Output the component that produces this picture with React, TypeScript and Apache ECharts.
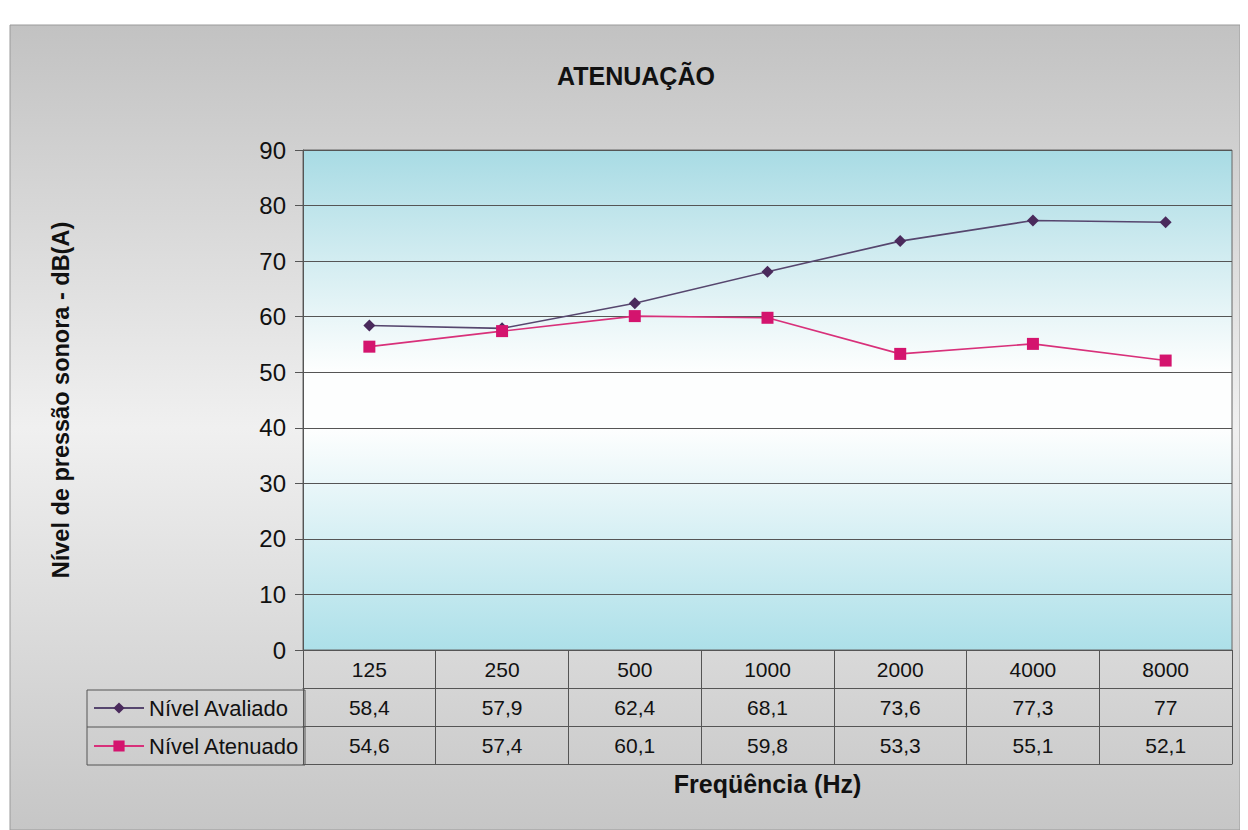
import React, { useEffect, useRef } from "react";
import * as echarts from "echarts";

const categories = ["125", "250", "500", "1000", "2000", "4000", "8000"];
const nivelAvaliado = [58.4, 57.9, 62.4, 68.1, 73.6, 77.3, 77];
const nivelAtenuado = [54.6, 57.4, 60.1, 59.8, 53.3, 55.1, 52.1];
const yTicks = [0, 10, 20, 30, 40, 50, 60, 70, 80, 90];

const FONT = "'Liberation Sans', Arial, sans-serif";
const fmt = (v: number) => String(v).replace(".", ",");

export default function App() {
  const ref = useRef<HTMLDivElement>(null);
  useEffect(() => {
    if (!ref.current) return;
    const chart = echarts.init(ref.current, null, { renderer: "svg" });
    const lineCol = "#555555";
    const tableAxis = (offset: number, values: number[] | null, showLabel: boolean) => ({
      type: "category",
      position: "bottom",
      offset,
      data: categories,
      boundaryGap: true,
      axisLine: { show: true, lineStyle: { color: lineCol, width: 1 } },
      axisTick: { show: true, length: 38, lineStyle: { color: lineCol, width: 1 } },
      axisLabel: {
        show: showLabel,
        interval: 0,
        margin: 9,
        fontFamily: FONT,
        fontSize: 21,
        lineHeight: 21,
        color: "#111",
        formatter: (_v: string, i: number) => (values ? fmt(values[i]) : categories[i]),
      },
      splitLine: { show: false },
    });
    chart.setOption({
      animation: false,
      backgroundColor: "transparent",
      title: {
        text: "ATENUAÇÃO",
        left: 623,
        textAlign: "center",
        top: 50,
        textStyle: { fontFamily: FONT, fontSize: 25, fontWeight: "bold", color: "#111" },
      },
      graphic: [
        {
          type: "rect",
          z: -10,
          shape: { x: 2, y: 17, width: 1230, height: 805 },
          style: {
            fill: new echarts.graphic.LinearGradient(0, 0, 0, 1, [
              { offset: 0, color: "#c2c2c2" },
              { offset: 0.5, color: "#f0f0f0" },
              { offset: 1, color: "#c6c6c6" },
            ]),
            stroke: "#9a9a9a",
            lineWidth: 1,
          },
        },
        {
          type: "rect",
          z: 5,
          shape: { x: 79, y: 682, width: 218, height: 75 },
          style: { fill: "none", stroke: lineCol, lineWidth: 1 },
        },
        {
          type: "line",
          z: 5,
          shape: { x1: 79, y1: 719, x2: 297, y2: 719 },
          style: { stroke: lineCol, lineWidth: 1 },
        },
      ],
      legend: {
        orient: "vertical",
        left: 85,
        top: 689,
        padding: 0,
        itemGap: 16,
        itemWidth: 50,
        itemHeight: 14,
        textStyle: { fontFamily: FONT, fontSize: 22, lineHeight: 22, color: "#111" },
        data: ["Nível Avaliado", "Nível Atenuado"],
      },
      grid: {
        left: 295,
        right: 16,
        top: 142,
        bottom: 180,
        show: true,
        borderColor: "#666",
        borderWidth: 1,
        backgroundColor: new echarts.graphic.LinearGradient(0, 0, 0, 1, [
          { offset: 0, color: "#a8dbe4" },
          { offset: 0.44, color: "#fdfefe" },
          { offset: 0.56, color: "#fdfefe" },
          { offset: 1, color: "#ade0e9" },
        ]),
      },
      xAxis: [
        {
          ...tableAxis(0, null, true),
          name: "Freqüência (Hz)",
          nameLocation: "middle",
          nameGap: 121,
          nameTextStyle: { fontFamily: FONT, fontSize: 25, fontWeight: "bold", color: "#111" },
        },
        tableAxis(38, nivelAvaliado, true),
        tableAxis(76, nivelAtenuado, true),
        { ...tableAxis(114, null, false), axisTick: { show: false } },
      ],
      yAxis: {
        type: "value",
        min: yTicks[0],
        max: yTicks[yTicks.length - 1],
        interval: 10,
        name: "Nível de pressão sonora - dB(A)",
        nameLocation: "middle",
        nameGap: 230,
        nameTextStyle: { fontFamily: FONT, fontSize: 23.5, fontWeight: "bold", color: "#111" },
        axisLine: { show: true, lineStyle: { color: lineCol } },
        axisTick: { show: true, length: 8, lineStyle: { color: lineCol } },
        axisLabel: { fontFamily: FONT, fontSize: 24, color: "#111", margin: 17 },
        splitLine: { show: true, lineStyle: { color: lineCol, width: 1 } },
      },
      series: [
        {
          name: "Nível Avaliado",
          type: "line",
          xAxisIndex: 0,
          data: nivelAvaliado,
          symbol: "diamond",
          symbolSize: 12,
          itemStyle: { color: "#4a2a5c" },
          lineStyle: { color: "#56466e", width: 1.6 },
        },
        {
          name: "Nível Atenuado",
          type: "line",
          xAxisIndex: 0,
          data: nivelAtenuado,
          symbol: "rect",
          symbolSize: 12,
          itemStyle: { color: "#d4146e" },
          lineStyle: { color: "#d8307a", width: 1.6 },
        },
      ],
    });
    return () => chart.dispose();
  }, []);
  return <div ref={ref} style={{ width: 1240, height: 822 }} />;
}
